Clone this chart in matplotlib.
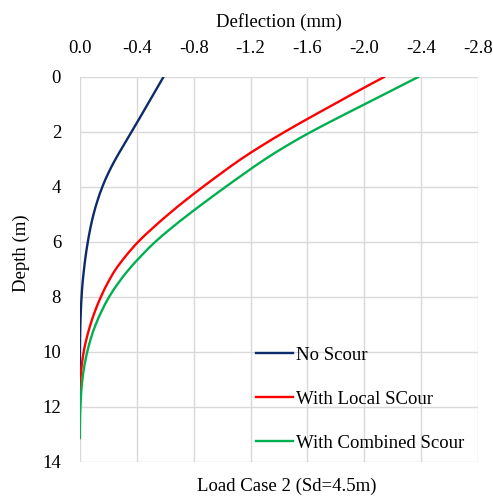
import numpy as np
import matplotlib
matplotlib.use("Agg")
import matplotlib.pyplot as plt
from matplotlib.path import Path
from matplotlib.patches import PathPatch
from matplotlib.lines import Line2D

plt.rcParams['font.family'] = ['Liberation Serif', 'DejaVu Serif']

# Depth (m) and deflection (mm)
depth_no = [0, 0.5, 1, 1.5, 2, 2.5, 3, 3.5, 4, 4.5, 5, 5.5, 6, 6.5, 7, 7.5,
            8, 8.5, 9, 9.5, 10, 10.5, 11]
defl_no = [-0.588, -0.532, -0.476, -0.42, -0.363, -0.306, -0.25, -0.2,
           -0.158, -0.124, -0.096, -0.074, -0.056, -0.041, -0.029, -0.019,
           -0.012, -0.007, -0.0035, -0.0015, -0.0005, 0.0, 0.0]

depth_local = [0, 0.5, 1, 1.5, 2, 2.5, 3, 3.5, 4, 4.5, 5, 5.5, 6, 6.5, 7, 7.5,
               8, 8.5, 9, 9.5, 10, 10.5, 11, 11.5]
defl_local = [-2.14, -1.96, -1.785, -1.61, -1.44, -1.28, -1.13, -0.995, -0.865,
              -0.74, -0.622, -0.512, -0.41, -0.325, -0.252, -0.195, -0.148,
              -0.108, -0.075, -0.048, -0.027, -0.013, -0.004, 0.0]

depth_comb = [0, 0.5, 1, 1.5, 2, 2.5, 3, 3.5, 4, 4.5, 5, 5.5, 6, 6.5, 7, 7.5,
              8, 8.5, 9, 9.5, 10, 10.5, 11, 11.5, 12, 12.5, 13, 13.15]
defl_comb = [-2.38, -2.19, -2.00, -1.81, -1.625, -1.455, -1.30, -1.16, -1.025,
             -0.893, -0.765, -0.643, -0.53, -0.433, -0.345, -0.27, -0.206,
             -0.155, -0.112, -0.078, -0.052, -0.032, -0.018, -0.009, -0.004,
             -0.001, 0.0, 0.0]

x_ticks = [0.0, -0.4, -0.8, -1.2, -1.6, -2.0, -2.4, -2.8]
y_ticks = [0, 2, 4, 6, 8, 10, 12, 14]

FS = 13.5


def smooth_line(ax, xs, ys, color, label):
    # smoothed line through the points (bezier segments, like a spreadsheet "smoothed line")
    p = np.column_stack([xs, ys])
    verts = [p[0]]
    codes = [Path.MOVETO]
    for i in range(len(p) - 1):
        prev = p[i - 1] if i > 0 else p[i]
        nxt = p[i + 2] if i + 2 < len(p) else p[i + 1]
        c1 = p[i] + (p[i + 1] - prev) / 6
        c2 = p[i + 1] - (nxt - p[i]) / 6
        verts += [c1, c2, p[i + 1]]
        codes += [Path.CURVE4] * 3
    ax.add_patch(PathPatch(Path(verts, codes), fc='none', ec=color, lw=1.7,
                           capstyle='round', joinstyle='round'))
    return Line2D([], [], color=color, lw=1.7, label=label)


fig = plt.figure(figsize=(4.93, 4.96), dpi=100)
ax = fig.add_axes([0.162, 0.069, 0.808, 0.776])

handles = [
    smooth_line(ax, defl_no, depth_no, '#0d2a6b', 'No Scour'),
    smooth_line(ax, defl_local, depth_local, '#ff0000', 'With Local SCour'),
    smooth_line(ax, defl_comb, depth_comb, '#00b050', 'With Combined Scour'),
]

ax.set_xlim(0, -2.8)
ax.set_ylim(14, 0)
ax.set_xticks(x_ticks)
ax.set_xticklabels([f'{v:.1f}' for v in x_ticks])
ax.set_yticks(y_ticks)
ax.xaxis.tick_top()
ax.xaxis.set_label_position('top')
ax.tick_params(axis='x', length=0, labelsize=FS, pad=14)
ax.tick_params(axis='y', length=0, labelsize=FS, pad=13.5)
ax.set_xlabel('Deflection (mm)', fontsize=FS, labelpad=9.5)
ax.set_ylabel('Depth (m)', fontsize=FS)
ax.yaxis.label.set_va('center')
ax.yaxis.set_label_coords(-0.146, 0.543)

ax.grid(True, color='#d9d9d9', lw=1)
ax.set_axisbelow(True)
for s in ax.spines.values():
    s.set_visible(False)

ax.legend(handles=handles, loc='upper left', bbox_to_anchor=(0.442, 0.299),
          frameon=False, fontsize=FS, handlelength=2.0, handletextpad=0.15,
          labelspacing=1.43, borderaxespad=0, borderpad=0)

fig.text(0.582, 0.02, 'Load Case 2 (Sd=4.5m)', ha='center', va='center', fontsize=FS)

fig.savefig('out.png', dpi=100)
